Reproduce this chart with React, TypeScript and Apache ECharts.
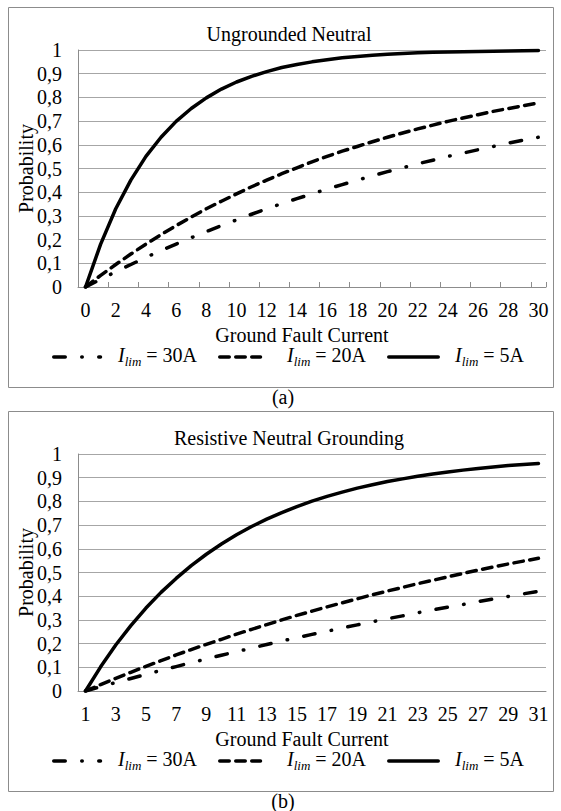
import React, { useEffect, useRef } from "react";
import * as echarts from "echarts";

const FONT = "'Liberation Serif', 'Times New Roman', Times, serif";

// Categories
const X_TOP = ["0","1","2","3","4","5","6","7","8","9","10","11","12","13","14","15","16","17","18","19","20","21","22","23","24","25","26","27","28","29","30"];
const X_BOTTOM = ["1","2","3","4","5","6","7","8","9","10","11","12","13","14","15","16","17","18","19","20","21","22","23","24","25","26","27","28","29","30","31"];

// Series names (legend)
const SERIES_NAMES = ["30A", "20A", "5A"];

// (a) Ungrounded Neutral
const TOP_30A = [0,0.033,0.064,0.095,0.125,0.154,0.181,0.208,0.234,0.259,0.283,0.307,0.330,0.352,0.373,0.393,0.413,0.432,0.451,0.469,0.487,0.503,0.520,0.535,0.551,0.565,0.579,0.593,0.607,0.620,0.632];
const TOP_20A = [0,0.049,0.095,0.139,0.181,0.221,0.259,0.295,0.330,0.362,0.393,0.423,0.451,0.478,0.503,0.528,0.551,0.573,0.593,0.613,0.632,0.650,0.667,0.683,0.699,0.713,0.727,0.741,0.753,0.765,0.777];
const TOP_5A = [0,0.181,0.330,0.451,0.551,0.632,0.699,0.753,0.798,0.835,0.865,0.889,0.909,0.926,0.939,0.950,0.959,0.967,0.973,0.978,0.982,0.985,0.988,0.990,0.992,0.993,0.994,0.995,0.996,0.997,0.998];

// (b) Resistive Neutral Grounding
const BOT_30A = [0,0.018,0.036,0.053,0.070,0.087,0.103,0.120,0.135,0.151,0.166,0.181,0.196,0.211,0.225,0.239,0.252,0.266,0.279,0.292,0.305,0.317,0.330,0.342,0.354,0.365,0.377,0.388,0.399,0.410,0.420];
const BOT_20A = [0,0.027,0.053,0.079,0.104,0.128,0.152,0.175,0.197,0.218,0.240,0.260,0.280,0.300,0.319,0.337,0.355,0.372,0.389,0.406,0.422,0.437,0.453,0.467,0.482,0.496,0.510,0.523,0.536,0.548,0.560];
const BOT_5A = [0,0.102,0.194,0.276,0.350,0.416,0.475,0.529,0.577,0.620,0.659,0.694,0.725,0.753,0.778,0.801,0.821,0.839,0.856,0.870,0.884,0.895,0.906,0.916,0.924,0.932,0.939,0.945,0.951,0.956,0.960];

const DASHES: number[][] = [
  [11.5, 16.5, 0.5, 16.5],
  [9.5, 6.5],
  [],
];

// legend sample positions (line start, line end, text start)
const LEGEND_POS = [
  [53.75, 100.5, 118],
  [219.75, 260.5, 287],
  [388.75, 438.25, 455],
];
const LEGEND_Y = 357;

const RICH = {
  i: { fontFamily: FONT, fontSize: 20, fontStyle: "italic", fill: "#000", lineHeight: 22, verticalAlign: "top" },
  s: { fontFamily: FONT, fontSize: 13, fontStyle: "italic", fill: "#000", padding: [10, 0, 0, 0], lineHeight: 14, verticalAlign: "top" },
  n: { fontFamily: FONT, fontSize: 20, fill: "#000", lineHeight: 22, verticalAlign: "top" },
};

function buildOption(title: string, cats: string[], data: number[][], ticks: boolean, caption: string) {
  const legendGraphics: any[] = [];
  SERIES_NAMES.forEach((name, i) => {
    const [x1, x2, tx] = LEGEND_POS[i];
    legendGraphics.push({
      type: "line",
      shape: { x1, y1: LEGEND_Y, x2, y2: LEGEND_Y },
      style: {
        stroke: "#000",
        lineWidth: 3.5,
        lineCap: "round",
        lineDash: DASHES[i].length ? DASHES[i] : null,
      },
      silent: true,
    });
    legendGraphics.push({
      type: "text",
      x: tx,
      y: LEGEND_Y - 12,
      style: {
        text: `{i|I}{s|lim}{n| = ${name}}`,
        rich: RICH,
        fill: "#000",
        font: `20px ${FONT}`,
      },
      silent: true,
    });
  });

  return {
    animation: false,
    backgroundColor: "transparent",
    title: {
      text: title,
      left: 284,
      top: 19,
      textAlign: "center",
      textStyle: { fontFamily: FONT, fontSize: 20, fontWeight: "normal", color: "#000" },
    },
    grid: { left: 78, top: 50, width: 468, height: 237, containLabel: false },
    xAxis: {
      type: "category",
      data: cats,
      boundaryGap: true,
      name: "Ground Fault Current",
      nameLocation: "middle",
      nameGap: 32,
      nameTextStyle: { fontFamily: FONT, fontSize: 20, color: "#000", padding: [0, 20, 0, 0] },
      axisLine: { show: true, lineStyle: { color: "#8c8c8c", width: 1 } },
      axisTick: { show: ticks, inside: true, length: 5, interval: 1, lineStyle: { color: "#8c8c8c" } },
      axisLabel: { interval: 1, fontFamily: FONT, fontSize: 20, color: "#000", margin: 13 },
      splitLine: { show: false },
    },
    yAxis: {
      type: "value",
      min: 0,
      max: 1,
      interval: 0.1,
      name: "Probability",
      nameLocation: "middle",
      nameGap: 42,
      nameMoveOverlap: false,
      nameTextStyle: { fontFamily: FONT, fontSize: 20, color: "#000" },
      axisLine: { show: true, lineStyle: { color: "#8c8c8c", width: 1 } },
      axisTick: { show: false },
      axisLabel: {
        fontFamily: FONT,
        fontSize: 20,
        color: "#000",
        margin: 16,
        formatter: (v: number) => String(Number(v.toFixed(1))).replace(".", ","),
      },
      splitLine: { show: true, lineStyle: { color: "#a6a6a6", width: 1 } },
    },
    graphic: [
      {
        type: "rect",
        shape: { x: 8.5, y: 7.5, width: 545, height: 380 },
        style: { fill: "none", stroke: "#8c8c8c", lineWidth: 1 },
        silent: true,
      },
      {
        type: "text",
        x: 283,
        y: 397,
        style: { text: caption, font: `20px ${FONT}`, fill: "#000", textAlign: "center", textVerticalAlign: "middle" },
        silent: true,
      },
      ...legendGraphics,
    ],
    series: SERIES_NAMES.map((name, i) => ({
      name,
      type: "line",
      data: data[i],
      symbol: "none",
      showSymbol: false,
      smooth: false,
      itemStyle: { color: "#000" },
      lineStyle: {
        color: "#000",
        width: 3.5,
        type: DASHES[i].length ? DASHES[i] : "solid",
        cap: "round",
        join: "round",
      },
    })),
  };
}

function Chart({ option, height }: { option: any; height: number }) {
  const ref = useRef<HTMLDivElement>(null);
  useEffect(() => {
    if (!ref.current) return;
    const chart = echarts.init(ref.current, undefined, { renderer: "svg" });
    chart.setOption(option);
    return () => chart.dispose();
  }, [option]);
  return <div ref={ref} style={{ width: 561, height }} />;
}

const TOP_OPTION = buildOption("Ungrounded Neutral", X_TOP, [TOP_30A, TOP_20A, TOP_5A], true, "(a)");
const BOT_OPTION = buildOption("Resistive Neutral Grounding", X_BOTTOM, [BOT_30A, BOT_20A, BOT_5A], false, "(b)");

export default function App() {
  useEffect(() => {
    document.body.style.margin = "0";
  }, []);
  return (
    <div style={{ position: "absolute", left: 0, top: 0, width: 561, height: 811, background: "#fff" }}>
      <div style={{ position: "absolute", left: 0, top: 0 }}>
        <Chart option={TOP_OPTION} height={414} />
      </div>
      <div style={{ position: "absolute", left: 0, top: 404 }}>
        <Chart option={BOT_OPTION} height={407} />
      </div>
    </div>
  );
}
